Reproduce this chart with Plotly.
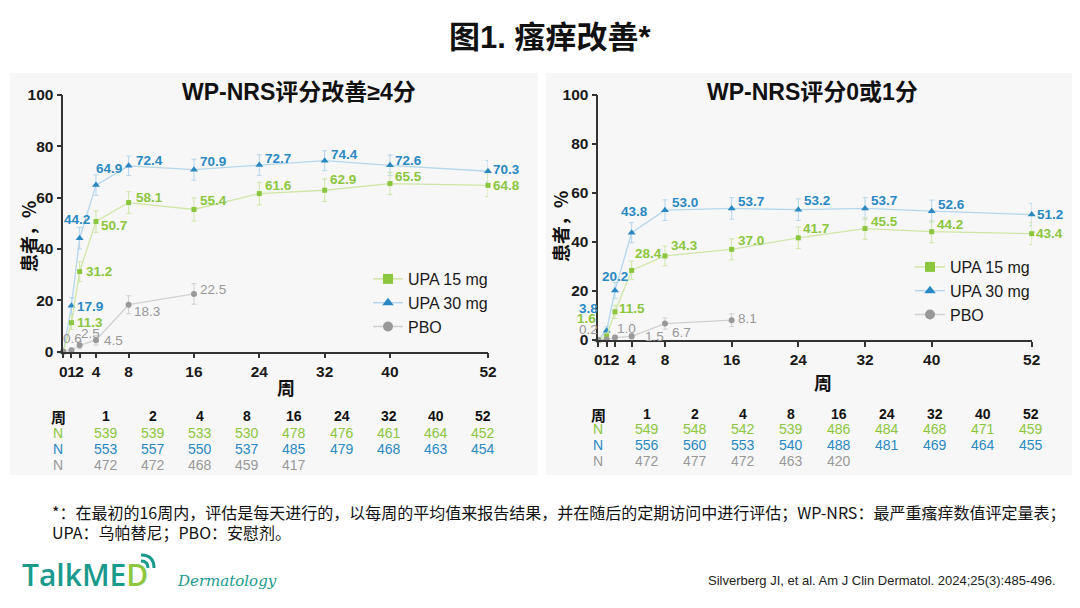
import plotly.graph_objects as go

# ---- data ----
weeks = [0, 1, 2, 4, 8, 16, 24, 32, 40, 52]
pbo_weeks = [0, 1, 2, 4, 8, 16]
x_ticks = [0, 1, 2, 4, 8, 16, 24, 32, 40, 52]
y_ticks = [0, 20, 40, 60, 80, 100]

# left: WP-NRS improvement >= 4
l_upa15 = [0, 11.3, 31.2, 50.7, 58.1, 55.4, 61.6, 62.9, 65.5, 64.8]
l_upa30 = [0, 17.9, 44.2, 64.9, 72.4, 70.9, 72.7, 74.4, 72.6, 70.3]
l_pbo = [0, 0.6, 2.5, 4.5, 18.3, 22.5]
l_upa15_err = [0, 2.7, 3.9, 4.2, 4.2, 4.5, 4.4, 4.4, 4.3, 4.4]
l_upa30_err = [0, 3.2, 4.2, 4.0, 3.8, 4.1, 4.0, 3.9, 4.0, 4.2]
l_pbo_err = [0, 0.7, 1.4, 1.9, 3.5, 4.0]

# right: WP-NRS 0 or 1
r_upa15 = [0, 1.6, 11.5, 28.4, 34.3, 37.0, 41.7, 45.5, 44.2, 43.4]
r_upa30 = [0, 3.8, 20.2, 43.8, 53.0, 53.7, 53.2, 53.7, 52.6, 51.2]
r_pbo = [0, 0.2, 1.0, 1.5, 6.7, 8.1]
r_upa15_err = [0, 1.1, 2.7, 3.8, 4.0, 4.3, 4.4, 4.4, 4.5, 4.5]
r_upa30_err = [0, 1.6, 3.3, 4.1, 4.2, 4.4, 4.4, 4.4, 4.5, 4.6]
r_pbo_err = [0, 0.4, 0.9, 1.1, 2.3, 2.6]

# number of patients tables
table_weeks = [1, 2, 4, 8, 16, 24, 32, 40, 52]
l_n15 = [539, 539, 533, 530, 478, 476, 461, 464, 452]
l_n30 = [553, 557, 550, 537, 485, 479, 468, 463, 454]
l_npbo = [472, 472, 468, 459, 417]
r_n15 = [549, 548, 542, 539, 486, 484, 468, 471, 459]
r_n30 = [556, 560, 553, 540, 488, 481, 469, 464, 455]
r_npbo = [472, 477, 472, 463, 420]

# label offsets (dx, dy up, anchor), one per point after week 0
l_off15 = [(5, 0, "left"), (5, 0, "left"), (4, -4, "left"), (6, 5, "left"), (5, 9, "left"),
           (5, 8, "left"), (4, 11, "left"), (4, 7, "left"), (4, 0, "left")]
l_off30 = [(5, -1, "left"), (-3, 19, "center"), (-1, 17, "left"), (6, 5, "left"), (5, 8, "left"),
           (5, 7, "left"), (5, 6, "left"), (4, 5, "left"), (4, 2, "left")]
l_offp = [(1, 12, "center"), (0, 12, "left"), (7, 0, "left"), (4, -7, "left"), (5, 4, "left")]
r_off15 = [(-20, 18, "center"), (3, 3, "left"), (2, 17, "left"), (5, 10, "left"), (5, 9, "left"),
           (4, 9, "left"), (5, 7, "left"), (4, 7, "left"), (3, 0, "left")]
r_off30 = [(-18, 22, "center"), (0, 14, "center"), (3, 21, "center"), (6, 8, "left"), (5, 7, "left"),
           (5, 9, "left"), (5, 8, "left"), (5, 7, "left"), (4, 0, "left")]
r_offp = [(-18, 10, "center"), (1, 9, "left"), (12, 0, "left"), (6, -9, "left"), (5, 2, "left")]

GREEN = "#8cc63e"
BLUE = "#2a89c3"
GRAY = "#999999"
LINE = {GREEN: "#cfe6a8", BLUE: "#b5d6ec", GRAY: "#d0d0d0"}
FONT = "Liberation Sans, Arial, Noto Sans CJK SC"
CJK = "Noto Sans CJK SC, Liberation Sans"
NARROW = "Liberation Sans Narrow, Arial Narrow, Liberation Sans"

W, H = 1080, 608
OFF = 8  # page margin around the figure


def px(x):
    return (x - OFF) / W


def py(y):
    return 1 - (y - OFF) / H


fig = go.Figure()
annotations = []
shapes = []


def note(x, y, text, font, xanchor="center", yanchor="middle", **kw):
    annotations.append(dict(x=px(x), y=py(y), xref="paper", yref="paper", text=text, showarrow=False,
                            xanchor=xanchor, yanchor=yanchor, font=font, **kw))


# panel backgrounds
for x0, x1 in [(10, 538), (546, 1075)]:
    shapes.append(dict(type="rect", xref="paper", yref="paper", x0=px(x0), x1=px(x1),
                       y0=py(475), y1=py(73), fillcolor="#f7f7f7", line=dict(width=0), layer="below"))


def add_series(xs, ys, err, color, symbol, size, xa, ya, offs, bold=True):
    fig.add_trace(go.Scatter(
        x=xs, y=ys, mode="lines+markers", xaxis=xa, yaxis=ya, showlegend=False,
        line=dict(color=LINE[color], width=1.3),
        marker=dict(color=color, symbol=symbol, size=size),
        error_y=dict(type="data", array=err, color=LINE[color], thickness=1, width=2.5),
        cliponaxis=False,
    ))
    for xv, yv, (dx, dy, anc) in zip(xs[1:], ys[1:], offs):
        annotations.append(dict(
            x=xv, y=yv, xref=xa, yref=ya, text=f"{yv:.1f}", showarrow=False,
            xanchor=anc, yanchor="middle", xshift=dx, yshift=dy, borderpad=0,
            font=dict(family=FONT, size=13.5, color=color, weight="bold" if bold else "normal"),
        ))


add_series(weeks, l_upa30, l_upa30_err, BLUE, "triangle-up", 7, "x", "y", l_off30)
add_series(weeks, l_upa15, l_upa15_err, GREEN, "square", 5, "x", "y", l_off15)
add_series(pbo_weeks, l_pbo, l_pbo_err, GRAY, "circle", 6, "x", "y", l_offp, bold=False)
add_series(weeks, r_upa30, r_upa30_err, BLUE, "triangle-up", 7, "x2", "y2", r_off30)
add_series(weeks, r_upa15, r_upa15_err, GREEN, "square", 5, "x2", "y2", r_off15)
add_series(pbo_weeks, r_pbo, r_pbo_err, GRAY, "circle", 6, "x2", "y2", r_offp, bold=False)

# legend-only entries
for lg, xa, ya in [("legend", "x", "y"), ("legend2", "x2", "y2")]:
    for name, color, symbol in [("UPA 15 mg", GREEN, "square"), ("UPA 30 mg", BLUE, "triangle-up"),
                                ("PBO", GRAY, "circle")]:
        fig.add_trace(go.Scatter(
            x=[None], y=[None], mode="lines+markers", name=name, legend=lg, xaxis=xa, yaxis=ya,
            line=dict(color=LINE[color], width=1.5), marker=dict(color=color, symbol=symbol, size=10),
        ))

axis_common = dict(
    showgrid=False, zeroline=False, showline=True, linecolor="#333333", linewidth=1.5,
    ticks="outside", ticklen=5, tickwidth=1.5, tickcolor="#333333", tickangle=0, automargin=False,
    tickfont=dict(family=FONT, size=15.5, color="#1a1a1a", weight="bold"),
)

fig.update_layout(
    width=W, height=H, margin=dict(l=0, r=0, t=0, b=0, pad=0, autoexpand=False),
    paper_bgcolor="white", plot_bgcolor="rgba(0,0,0,0)",
    xaxis=dict(domain=[px(63.3), px(488)], range=[0, 52], tickvals=x_ticks, anchor="y", **axis_common),
    yaxis=dict(domain=[py(351.7), py(95)], range=[0, 100], tickvals=y_ticks, anchor="x", **axis_common),
    xaxis2=dict(domain=[px(598.3), px(1031.7)], range=[0, 52], tickvals=x_ticks, anchor="y2", **axis_common),
    yaxis2=dict(domain=[py(340), py(95)], range=[0, 100], tickvals=y_ticks, anchor="x2", **axis_common),
    legend=dict(x=px(368), y=py(262), xanchor="left", yanchor="top", bgcolor="rgba(0,0,0,0)",
                font=dict(family=FONT, size=16, color="#1a1a1a"), tracegroupgap=0),
    legend2=dict(x=px(910), y=py(250), xanchor="left", yanchor="top", bgcolor="rgba(0,0,0,0)",
                 font=dict(family=FONT, size=16, color="#1a1a1a"), tracegroupgap=0),
)

# titles
note(550, 37, "图1. 瘙痒改善*", dict(family=FONT, size=31, color="#111111", weight="bold"))
note(299, 92, "WP-NRS评分改善≥4分", dict(family=FONT, size=23, color="#111111", weight="bold"))
note(812, 92, "WP-NRS评分0或1分", dict(family=FONT, size=23, color="#111111", weight="bold"))

# axis titles
for xt, yt, xl, yl in [(286, 387, 28, 237), (823, 382, 560, 227)]:
    note(xt, yt, "周", dict(family=CJK, size=18, color="#111111", weight="bold"))
    note(xl, yl, "患者，%", dict(family=CJK, size=18, color="#111111", weight="bold"), textangle=-90)


# tables
def add_table(x_label, x_first, step, rows_y, n15, n30, npbo):
    note(x_label, rows_y[0], "周", dict(family=CJK, size=15, color="#111111", weight="bold"))
    for i, wk in enumerate(table_weeks):
        note(x_first + i * step, rows_y[0], str(wk), dict(family=NARROW, size=14, color="#111111", weight="bold"))
    for row_y, vals, color in [(rows_y[1], n15, GREEN), (rows_y[2], n30, BLUE), (rows_y[3], npbo, GRAY)]:
        note(x_label, row_y, "N", dict(family=NARROW, size=14, color=color))
        for i, v in enumerate(vals):
            note(x_first + i * step, row_y, str(v), dict(family=NARROW, size=14, color=color))


add_table(58, 106, 47.1, [416, 433, 449, 465], l_n15, l_n30, l_npbo)
add_table(598, 646.5, 48, [414, 429, 445, 461], r_n15, r_n30, r_npbo)

# footnote
note(50, 512, "*：在最初的16周内，评估是每天进行的，以每周的平均值来报告结果，并在随后的定期访问中进行评估；WP-NRS：最严重瘙痒数值评定量表；",
     dict(family=CJK, size=16, color="#111111"), xanchor="left")
note(50, 532, "UPA：乌帕替尼；PBO：安慰剂。", dict(family=CJK, size=16, color="#111111"), xanchor="left")

# logo and citation
note(20, 574, "TalkME<span style='color:#8dc63f'>D</span>",
     dict(family="Open Sans, Liberation Sans", size=30, color="#1a9a8c", weight=600), xanchor="left")
note(175, 581, "<i>Dermatology</i>", dict(family="DejaVu Serif", size=15, color="#1a9a8c"), xanchor="left")
note(1058, 580, "Silverberg JI, et al. Am J Clin Dermatol. 2024;25(3):485-496.",
     dict(family=FONT, size=13, color="#222222"), xanchor="right")

# signal arcs of the logo
for r in [7, 13]:
    cx, cy = 141, 568
    path = f"M {px(cx)},{py(cy - r)} Q {px(cx + r)},{py(cy - r)} {px(cx + r)},{py(cy)}"
    shapes.append(dict(type="path", xref="paper", yref="paper", path=path,
                       line=dict(color="#1a9a8c", width=3)))

fig.update_layout(annotations=annotations, shapes=shapes)

fig.write_html("out.html")
